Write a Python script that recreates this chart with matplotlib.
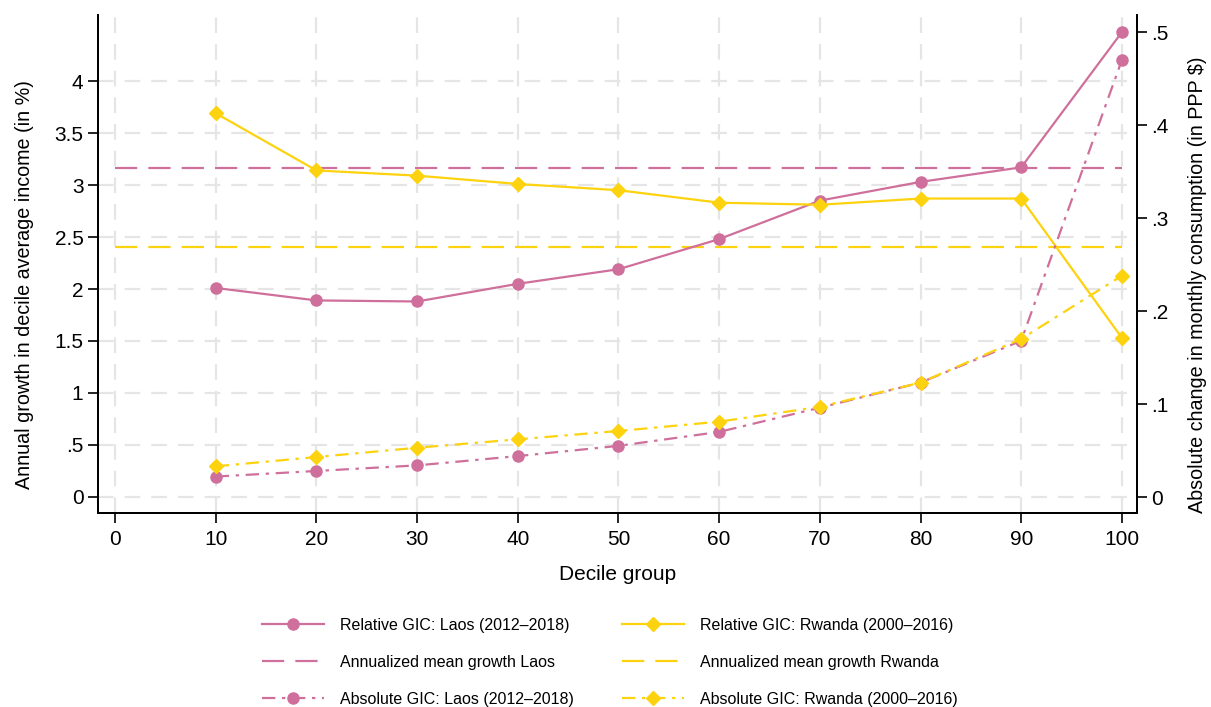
import matplotlib
matplotlib.use("Agg")
import matplotlib.pyplot as plt
from matplotlib.lines import Line2D

plt.rcParams['font.family'] = ['Liberation Sans', 'DejaVu Sans']

# Decile groups
deciles = [10, 20, 30, 40, 50, 60, 70, 80, 90, 100]

# Relative growth incidence curves (annual growth, %)
rel_laos = [2.01, 1.89, 1.88, 2.05, 2.19, 2.48, 2.85, 3.03, 3.17, 4.47]
rel_rwanda = [3.69, 3.14, 3.09, 3.01, 2.95, 2.83, 2.81, 2.87, 2.87, 1.53]

# Annualized mean growth (%)
mean_laos = 3.16
mean_rwanda = 2.40

# Absolute growth incidence curves (change in monthly consumption, PPP $)
abs_laos = [0.022, 0.028, 0.034, 0.044, 0.055, 0.070, 0.096, 0.123, 0.168, 0.470]
abs_rwanda = [0.033, 0.043, 0.053, 0.062, 0.071, 0.081, 0.097, 0.123, 0.170, 0.238]

# Axis ticks
x_ticks = [0, 10, 20, 30, 40, 50, 60, 70, 80, 90, 100]
left_ticks = [0, 0.5, 1, 1.5, 2, 2.5, 3, 3.5, 4]
left_tick_labels = ["0", ".5", "1", "1.5", "2", "2.5", "3", "3.5", "4"]
right_ticks = [0, 0.1, 0.2, 0.3, 0.4, 0.5]
right_tick_labels = ["0", ".1", ".2", ".3", ".4", ".5"]

PINK = "#cf6f9c"
GOLD = "#fdd20e"
GRID = "#e5e5e5"
absdash = (0, (6, 3, 1.5, 3))
meandash = (0, (10, 5))

fig = plt.figure(figsize=(12.11, 7.07), dpi=100)
ax = fig.add_axes([0.0809, 0.2744, 0.858, 0.7044])
ax2 = ax.twinx()

ax.set_xlim(-1.7, 101.5)
ax.set_ylim(-0.154, 4.635)
ax2.set_ylim(-0.0172, 0.5183)

# dashed light grid
for xv in x_ticks:
    ax.axvline(xv, color=GRID, lw=1.6, ls=(0, (7, 5)), zorder=0)
for yv in left_ticks:
    ax.axhline(yv, color=GRID, lw=1.6, ls=(0, (7, 5)), zorder=0)

# mean growth lines
ax.plot([0, 100], [mean_laos, mean_laos], color=PINK, lw=1.6, ls=meandash, zorder=2)
ax.plot([0, 100], [mean_rwanda, mean_rwanda], color=GOLD, lw=1.6, ls=meandash, zorder=2)

# relative GICs
ax.plot(deciles, rel_laos, color=PINK, lw=1.6, marker='o', ms=8, zorder=3)
ax.plot(deciles, rel_rwanda, color=GOLD, lw=1.6, marker='D', ms=7.5, zorder=3)

# absolute GICs on secondary axis
ax2.plot(deciles, abs_laos, color=PINK, lw=1.6, ls=absdash, marker='o', ms=8, zorder=3)
ax2.plot(deciles, abs_rwanda, color=GOLD, lw=1.6, ls=absdash, marker='D', ms=7.5, zorder=3)

ax.set_xticks(x_ticks)
ax.set_yticks(left_ticks)
ax.set_yticklabels(left_tick_labels)
ax2.set_yticks(right_ticks)
ax2.set_yticklabels(right_tick_labels)

for a in (ax, ax2):
    a.tick_params(axis='both', labelsize=15, length=7, width=1.2, pad=3.5,
                  direction='out', colors='black')
    for s in a.spines.values():
        s.set_linewidth(1.4)
        s.set_color('black')
ax.spines['top'].set_visible(False)
ax2.spines['top'].set_visible(False)
ax.tick_params(axis='x', pad=5)

ax.set_xlabel("Decile group", fontsize=15, labelpad=12)
ax.set_ylabel("Annual growth in decile average income (in %)", fontsize=14.2, labelpad=15)
ax2.set_ylabel("Absolute change in monthly consumption (in PPP $)", fontsize=14.2, labelpad=13.5)
ax.yaxis.label.set_y(0.458)
ax2.yaxis.label.set_y(0.458)

handles = [
    Line2D([], [], color=PINK, lw=1.6, marker='o', ms=8),
    Line2D([], [], color=PINK, lw=1.6, ls=meandash),
    Line2D([], [], color=PINK, lw=1.6, ls=absdash, marker='o', ms=8),
    Line2D([], [], color=GOLD, lw=1.6, marker='D', ms=7.5),
    Line2D([], [], color=GOLD, lw=1.6, ls=meandash),
    Line2D([], [], color=GOLD, lw=1.6, ls=absdash, marker='D', ms=7.5),
]
labels = [
    "Relative GIC: Laos (2012\u20132018)",
    "Annualized mean growth Laos",
    "Absolute GIC: Laos (2012\u20132018)",
    "Relative GIC: Rwanda (2000\u20132016)",
    "Annualized mean growth Rwanda",
    "Absolute GIC: Rwanda (2000\u20132016)",
]
fig.legend(handles, labels, ncol=2, loc='upper left', bbox_to_anchor=(0.211, 0.135),
           frameon=False, fontsize=11.5, handlelength=3.9, handletextpad=1.0,
           columnspacing=3.0, labelspacing=1.38, borderaxespad=0)

fig.savefig("out.png", dpi=100)
